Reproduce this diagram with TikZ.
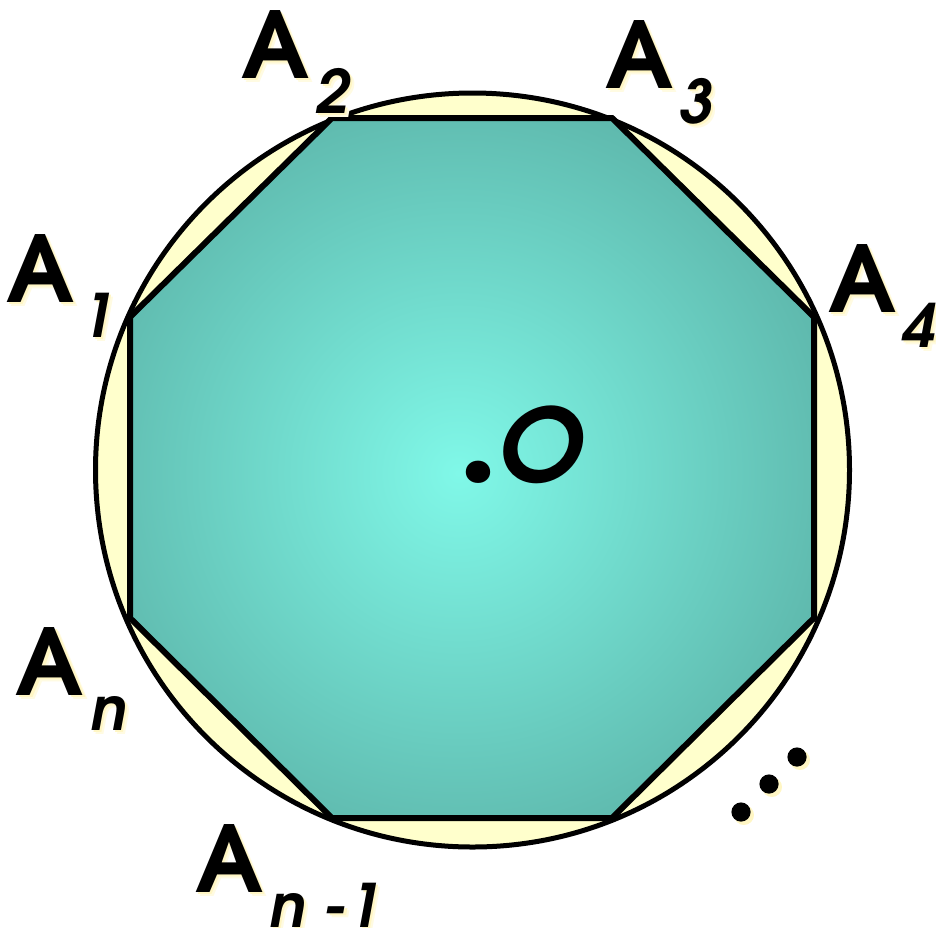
\documentclass[tikz,border=0pt]{standalone}
\usepackage{fontspec}
\setmainfont{texgyreadventor}[Extension=.otf, UprightFont=*-regular, BoldFont=*-bold, ItalicFont=*-italic, BoldItalicFont=*-bolditalic]
\newfontfamily\dotfont{Poppins}
\definecolor{ringfill}{HTML}{FFFFCC}
\definecolor{tcen}{HTML}{80F8E8}
\definecolor{tedge}{HTML}{5AB0A5}
\definecolor{glowa}{HTML}{FFF6C4}
\definecolor{glowb}{HTML}{FFFBE2}
\newcommand\glowit[1]{\makebox[0pt][l]{\textcolor{glowb}{\kern2.2pt\raisebox{-2.2pt}{#1}}}\makebox[0pt][l]{\textcolor{glowa}{\kern1.2pt\raisebox{-1.2pt}{#1}}}#1}
\newcommand\Alab[1]{\fontsize{46}{46}\selectfont\bfseries\glowit{A}\kern3pt\raisebox{-17.5pt}{\fontsize{30}{30}\selectfont\bfseries\itshape\glowit{#1}}}
\begin{document}
\begin{tikzpicture}[x=0.5pt,y=-0.5pt,
  lab/.style={inner sep=0pt, outer sep=0pt, anchor=base west, text=black},
  edge/.style={draw=black, line width=3pt, line join=miter},
  ring/.style={draw=black, line width=2.5pt, fill=ringfill}]
\path[use as bounding box] (0,0) rectangle (936,927);
% circle
\coordinate (c) at (472.5,470);
\draw[ring] (c) circle [radius=188.5pt];
% octagon vertices
\coordinate (v1) at (130,317);
\coordinate (v2) at (332,118);
\coordinate (v3) at (612,118);
\coordinate (v4) at (814,317);
\coordinate (v5) at (814,618);
\coordinate (v6) at (612,818);
\coordinate (v7) at (332,818);
\coordinate (v8) at (130,618);
\coordinate (gc) at (458,473);
\begin{scope}
\clip (v1) -- (v2) -- (v3) -- (v4) -- (v5) -- (v6) -- (v7) -- (v8) -- cycle;
\shade[inner color=tcen, outer color=tedge] (gc) circle [radius=220pt];
\end{scope}
\draw[edge] (v1) -- (v2) -- (v3) -- (v4) -- (v5) -- (v6) -- (v7) -- (v8) -- cycle;
% labels
\node[lab] (a1) at (6,302) {\Alab{1}};
\node[lab] (a2) at (241,78) {\Alab{2}};
\node[lab] (a3) at (605,88) {\Alab{3}};
\node[lab] (a4) at (828,312) {\Alab{4}};
\node[lab] (an) at (16,695) {\Alab{n}};
\node[lab] (an1) at (195,892) {\Alab{n -1}};
\node[lab] (o) at (461,482) {{\dotfont\fontsize{60}{60}\selectfont\bfseries .}\kern1.5pt{\fontsize{51}{51}\selectfont\bfseries\itshape O}};
% continuation dots
\fill[glowa] (744,815) circle [radius=5pt] (772,787) circle [radius=5pt] (800,760) circle [radius=5pt];
\fill[black] (741,812) circle [radius=4.8pt] (769,784) circle [radius=4.8pt] (797,757) circle [radius=4.8pt];
\end{tikzpicture}
\end{document}
